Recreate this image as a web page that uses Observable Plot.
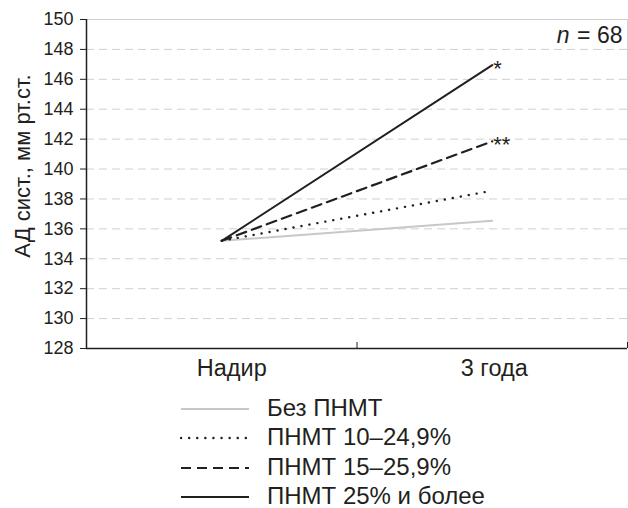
<!DOCTYPE html>
<html>
<head>
<meta charset="utf-8">
<script src="https://cdn.jsdelivr.net/npm/d3@7"></script>
<script src="https://cdn.jsdelivr.net/npm/@observablehq/plot@0.6"></script>
<style>
  body { margin: 0; background: #fff; }
  #wrap { position: relative; width: 628px; height: 508px; font-family: "Liberation Sans", Arial, sans-serif; color: #231f20; }
  #legend { position: absolute; left: 180px; top: 392.5px; }
  .row { display: flex; align-items: flex-start; height: 29.5px; line-height: 29.5px; font-size: 24px; }
  .row svg { display: block; margin-right: 17px; }
  #ytitle { position: absolute; left: 23px; top: 166px; transform: translate(-50%, -50%) rotate(-90deg); white-space: nowrap; font-size: 22px; line-height: 1; }
</style>
</head>
<body>
<div id="wrap"><div id="chart"></div><div id="ytitle"></div><div id="legend"></div></div>
<script>
// ---- data ----
const categories = ["Надир", "3 года"];
const series = ["Без ПНМТ", "ПНМТ 10–24,9%", "ПНМТ 15–25,9%", "ПНМТ 25% и более"];
const nadirValues = [135.2, 135.2, 135.2, 135.2];
const year3Values = [136.55, 138.55, 141.85, 146.95];
const significance = ["", "", "**", "*"];
const yTicks = [128, 130, 132, 134, 136, 138, 140, 142, 144, 146, 148, 150];
const yTitle = "АД сист., мм рт.ст.";
const sampleLabel = ["n", "= 68"];

// ---- styles ----
const styles = [
  {stroke: "#c8c8c8", strokeWidth: 2},
  {stroke: "#231f20", strokeWidth: 2.4, strokeDasharray: "0.1,8", strokeLinecap: "round"},
  {stroke: "#231f20", strokeWidth: 2.2, strokeDasharray: "10,6"},
  {stroke: "#231f20", strokeWidth: 2}
];
const categoryLabelShift = [10, 2];

const rows = [];
series.forEach((s, i) => {
  rows.push({series: s, x: 0.5, y: nadirValues[i]});
  rows.push({series: s, x: 1.5, y: year3Values[i]});
});
const ends = series.map((s, i) => ({series: s, x: 1.5, y: year3Values[i], mark: significance[i]})).filter(d => d.mark);

const yMin = yTicks[0], yMax = yTicks[yTicks.length - 1];

const chart = Plot.plot({
  width: 628, height: 385,
  marginLeft: 86, marginRight: 1, marginTop: 19, marginBottom: 37,
  style: {fontFamily: "Liberation Sans, Arial, sans-serif", background: "#fff", color: "#231f20"},
  x: {domain: [0, categories.length]},
  y: {domain: [yMin, yMax]},
  marks: [
    Plot.ruleY(yTicks.filter(v => v > yMin && v < yMax), {stroke: "#d0d0d0", strokeWidth: 1, strokeDasharray: "8,5"}),
    Plot.ruleY([yMax], {stroke: "#d0d0d0", strokeWidth: 1}),
    Plot.ruleX([categories.length], {stroke: "#d0d0d0", strokeWidth: 1}),
    Plot.axisY({ticks: yTicks, tickSize: 6, tickPadding: 7, fontSize: 18, label: null, tickFormat: d => String(d), stroke: "#231f20"}),
    Plot.axisX({ticks: [1, 2], tickSize: -6, tickFormat: () => "", label: null, stroke: "#231f20"}),
    ...categories.map((c, i) => Plot.axisX({ticks: [i + 0.5], tickSize: 0, tickPadding: 11, fontSize: 23.5, label: null, dx: categoryLabelShift[i], tickFormat: () => c})),
    Plot.ruleX([0], {stroke: "#231f20", strokeWidth: 1.5}),
    Plot.ruleY([yMin], {stroke: "#231f20", strokeWidth: 1.5}),
    ...series.map((s, i) => Plot.line(rows.filter(d => d.series === s), {x: "x", y: "y", ...styles[i]})),
    Plot.text(ends, {x: "x", y: "y", text: "mark", textAnchor: "start", dx: 1, dy: 4, fontSize: 22, fill: "#231f20"}),
    Plot.text([sampleLabel[1]], {frameAnchor: "top-right", text: d => d, textAnchor: "end", lineAnchor: "top", dx: -5, dy: 7, fontSize: 23, fill: "#231f20"}),
    Plot.text([sampleLabel[0]], {frameAnchor: "top-right", text: d => d, textAnchor: "end", lineAnchor: "top", dx: -58, dy: 7, fontSize: 23, fontStyle: "italic", fill: "#231f20"})
  ]
});
document.getElementById("chart").appendChild(chart);
document.getElementById("ytitle").textContent = yTitle;

// ---- legend ----
const legend = document.getElementById("legend");
series.forEach((s, i) => {
  const row = document.createElement("div");
  row.className = "row";
  const st = styles[i];
  row.innerHTML = `<svg width="70" height="29.5"><line x1="1" x2="69" y1="16" y2="16" stroke="${st.stroke}" stroke-width="${st.strokeWidth}" ${st.strokeDasharray ? `stroke-dasharray="${st.strokeDasharray}"` : ""} ${st.strokeLinecap ? `stroke-linecap="${st.strokeLinecap}"` : ""}/></svg><span>${s}</span>`;
  legend.appendChild(row);
});
</script>
</body>
</html>
